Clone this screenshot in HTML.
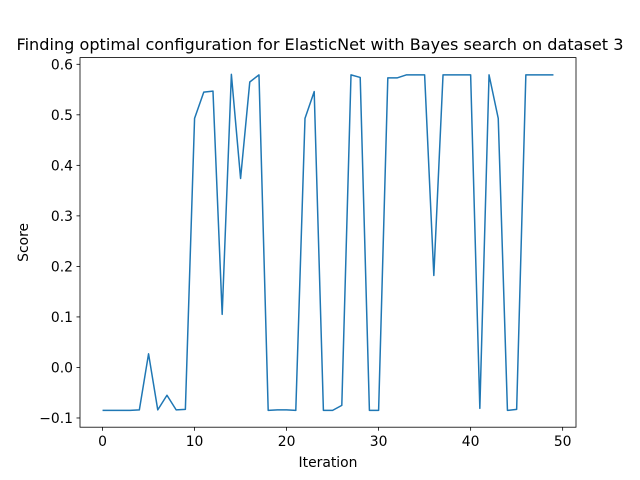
<!DOCTYPE html>
<html><head><meta charset="utf-8">
<style>body{margin:0;background:#fff}svg{display:block}text{font-family:"DejaVu Sans","Liberation Sans",sans-serif;fill:#000}</style>
</head><body>
<svg id="chart" width="640" height="480"></svg>
<script>
const iterations = [];
for (let i = 0; i < 50; i++) iterations.push(i);
const scores = [-0.085,-0.085,-0.085,-0.085,-0.084,0.027,-0.084,-0.055,-0.084,-0.083,
0.493,0.545,0.547,0.105,0.580,0.374,0.565,0.579,-0.085,-0.084,
-0.084,-0.085,0.493,0.546,-0.085,-0.085,-0.075,0.579,0.574,-0.085,
-0.085,0.573,0.573,0.579,0.579,0.579,0.182,0.579,0.579,0.579,
0.579,-0.081,0.579,0.493,-0.085,-0.083,0.579,0.579,0.579,0.579];
const xTicks = [0,10,20,30,40,50];
const yTicks = [-0.1,0.0,0.1,0.2,0.3,0.4,0.5,0.6];

const L=80,R=576,T=57.6,B=427.2;
const xmin=-2.45,xmax=51.45;
const ylo=Math.min(...scores),yhi=Math.max(...scores),m=(yhi-ylo)*0.05;
const ymin=ylo-m,ymax=yhi+m;
const sx=v=>L+(v-xmin)/(xmax-xmin)*(R-L);
const sy=v=>B-(v-ymin)/(ymax-ymin)*(B-T);
const svg=document.getElementById('chart');
const NS='http://www.w3.org/2000/svg';
function mk(tag,attrs,parent){const e=document.createElementNS(NS,tag);for(const k in attrs)e.setAttribute(k,attrs[k]);(parent||svg).appendChild(e);return e;}

const title=mk('text',{x:320,y:50,'text-anchor':'middle','font-size':'16.1'});


title.textContent='Finding optimal configuration for ElasticNet with Bayes search on dataset 3';

const xg=mk('g',{});


xTicks.forEach(t=>{const x=sx(t);
 mk('line',{x1:x,x2:x,y1:B,y2:B+3.5,stroke:'#000','stroke-width':0.8},xg);
 const tx=mk('text',{x:x,y:B+19,'text-anchor':'middle','font-size':'13.9'},xg);
 
 
 tx.textContent=t;});
const xl=mk('text',{x:(L+R)/2,y:467,'text-anchor':'middle','font-size':'13.9'});


xl.textContent='Iteration';

const yg=mk('g',{});


yTicks.forEach(t=>{const y=sy(t);
 mk('line',{x1:L-3.5,x2:L,y1:y,y2:y,stroke:'#000','stroke-width':0.8},yg);
 const tx=mk('text',{x:L-7,y:y+5,'text-anchor':'end','font-size':'13.9'},yg);
 
 
 tx.textContent=(t<0?'\u2212':'')+Math.abs(t).toFixed(1);});
const yl=mk('text',{x:0,y:0,'text-anchor':'middle','font-size':'13.9',transform:`translate(28,${(T+B)/2}) rotate(-90)`});


yl.textContent='Score';

const line=mk('polyline',{points:iterations.map((x,i)=>sx(x)+','+sy(scores[i])).join(' '),fill:'none',stroke:'#1f77b4','stroke-width':1.5,'stroke-linejoin':'round'});



const frame=mk('rect',{x:L,y:T,width:R-L,height:B-T,fill:'none',stroke:'#000','stroke-width':0.8});


</script>
</body></html>
